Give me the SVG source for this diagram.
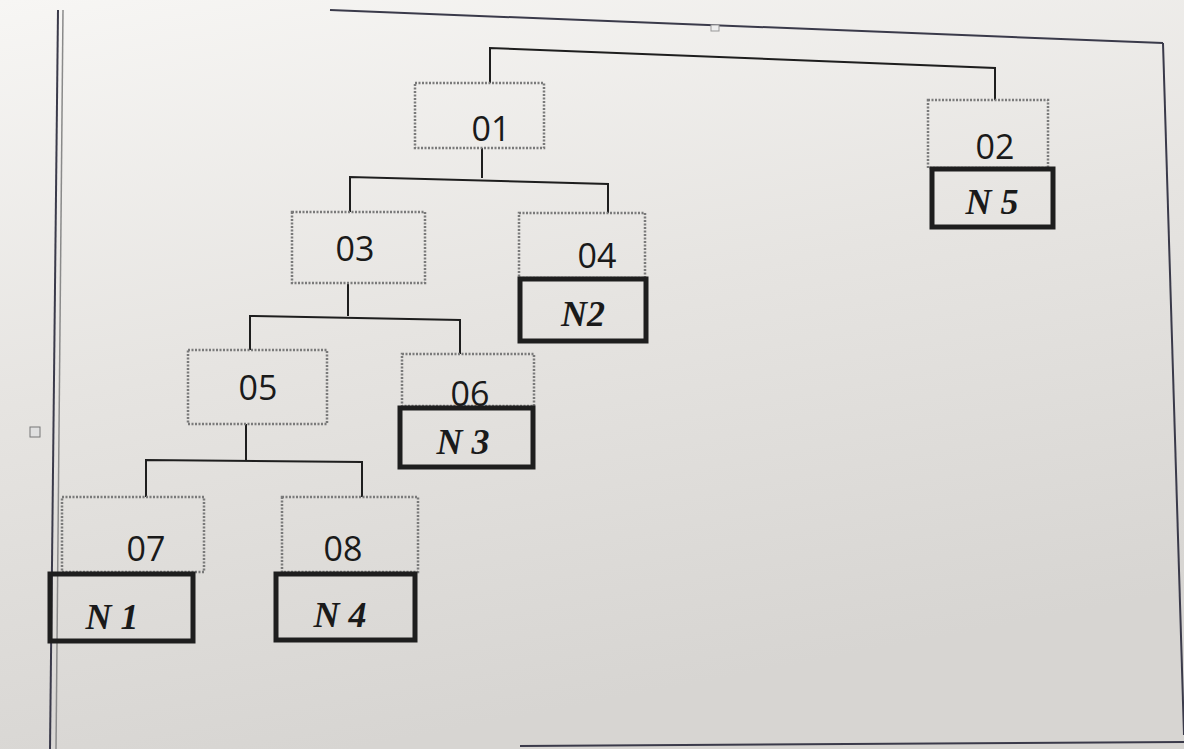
<svg xmlns="http://www.w3.org/2000/svg" width="1184" height="749" viewBox="0 0 1184 749">
<defs>
<linearGradient id="paper" x1="0" y1="0" x2="0.3" y2="1">
<stop offset="0" stop-color="#f7f6f4"/>
<stop offset="0.5" stop-color="#e6e4e1"/>
<stop offset="1" stop-color="#d7d5d2"/>
</linearGradient>
<style>
.dot{fill:none;stroke:#7a7a7a;stroke-width:2.5;stroke-dasharray:2 1.5}
.thick{fill:none;stroke:#1e1e1e;stroke-width:5}
.lbl{font-family:"Open Sans","Liberation Sans",sans-serif;font-size:34px;fill:#1a1a1a;text-anchor:middle}
.hw{font-family:"Liberation Serif",serif;font-style:italic;font-weight:bold;font-size:36px;fill:#1a1a1a;text-anchor:middle}
.conn{fill:none;stroke:#1e1e1e;stroke-width:2}
.frame{fill:none;stroke:#3a3a4a;stroke-width:2}
</style>
</defs>
<rect x="0" y="0" width="1184" height="749" fill="url(#paper)"/>
<g id="frame">
<line class="frame" x1="330" y1="10" x2="1163" y2="43"/>
<line class="frame" x1="1163" y1="43" x2="1184" y2="735"/>
<line class="frame" x1="520" y1="746" x2="1184" y2="742"/>
<line class="frame" x1="58" y1="10" x2="50" y2="749"/>
<line x1="63" y1="10" x2="56" y2="749" stroke="#8a8a8a" stroke-width="1.5"/>
<rect x="30" y="427" width="10" height="10" fill="#e0e0e0" stroke="#777" stroke-width="1"/>
<rect x="711" y="25" width="8" height="6" fill="#eee" stroke="#999" stroke-width="1"/>
</g>
<g id="connectors">
<polyline class="conn" points="490,83 490,48 995,68 995,100"/>
<polyline class="conn" points="482,148 482,178"/>
<polyline class="conn" points="350,212 350,177 608,184 608,213"/>
<polyline class="conn" points="348,283 348,316"/>
<polyline class="conn" points="250,350 250,316 460,320 460,354"/>
<polyline class="conn" points="246,424 246,460"/>
<polyline class="conn" points="146,497 146,460 362,462 362,497"/>
</g>
<g id="n01">
<rect class="dot" x="415" y="83" width="129" height="65"/>
<text class="lbl" x="491" y="141">01</text>
</g>
<g id="n02">
<rect class="dot" x="928" y="100" width="120" height="68"/>
<text class="lbl" x="995" y="159">02</text>
<rect class="thick" x="932" y="169" width="121" height="58"/>
<text class="hw" x="992" y="214">N 5</text>
</g>
<g id="n03">
<rect class="dot" x="292" y="212" width="133" height="71"/>
<text class="lbl" x="355" y="261">03</text>
</g>
<g id="n04">
<rect class="dot" x="519" y="213" width="126" height="65"/>
<text class="lbl" x="597" y="268">04</text>
<rect class="thick" x="520" y="279" width="126" height="62"/>
<text class="hw" x="583" y="326">N2</text>
</g>
<g id="n05">
<rect class="dot" x="188" y="350" width="139" height="74"/>
<text class="lbl" x="258" y="400">05</text>
</g>
<g id="n06">
<rect class="dot" x="402" y="354" width="132" height="52"/>
<text class="lbl" x="470" y="406">06</text>
<rect class="thick" x="400" y="408" width="133" height="59"/>
<text class="hw" x="463" y="454">N 3</text>
</g>
<g id="n07">
<rect class="dot" x="62" y="497" width="142" height="75"/>
<text class="lbl" x="146" y="561">07</text>
<rect class="thick" x="50" y="574" width="143" height="67"/>
<text class="hw" x="112" y="629">N 1</text>
</g>
<g id="n08">
<rect class="dot" x="282" y="497" width="136" height="75"/>
<text class="lbl" x="343" y="561">08</text>
<rect class="thick" x="276" y="574" width="139" height="66"/>
<text class="hw" x="340" y="627">N 4</text>
</g>
</svg>
